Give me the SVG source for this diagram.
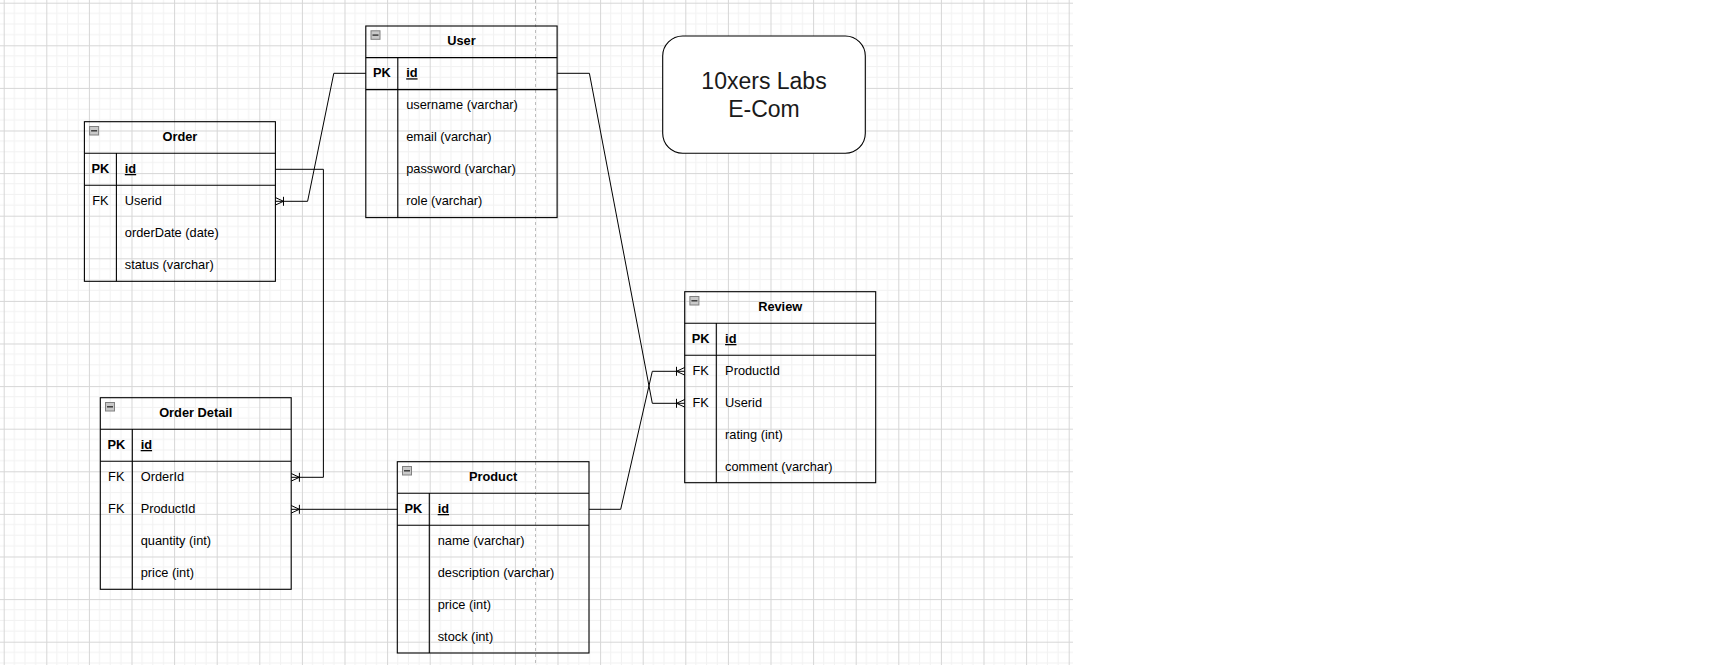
<svg xmlns="http://www.w3.org/2000/svg" width="1710" height="665" viewBox="0 0 1710 665">
  <style>
    .frame { fill: none; stroke: #000; stroke-width: 1.1; }
    .sep { fill: none; stroke: #000; stroke-width: 1.1; }
    .title { font: bold 12.8px "Liberation Sans", Arial, sans-serif; text-anchor: middle; fill: #000; }
    .key { font: 12.8px "Liberation Sans", Arial, sans-serif; text-anchor: middle; fill: #000; }
    .pk { font-weight: bold; }
    .fld { font: 12.8px "Liberation Sans", Arial, sans-serif; fill: #000; }
    .pkf { font-weight: bold; text-decoration: underline; }
    .conn { fill: none; stroke: #000; stroke-width: 1; }
    .label { font: 23px "Liberation Sans", Arial, sans-serif; text-anchor: middle; fill: #1a1a1a; }
  </style>
  <defs>
    <pattern id="grid" patternUnits="userSpaceOnUse" x="3.7" y="2.7" width="42.6" height="42.6">
      <rect x="10.15" y="0" width="1" height="42.6" fill="#f1f1f1"/>
      <rect x="20.8" y="0" width="1" height="42.6" fill="#f1f1f1"/>
      <rect x="31.45" y="0" width="1" height="42.6" fill="#f1f1f1"/>
      <rect x="0" y="10.15" width="42.6" height="1" fill="#f1f1f1"/>
      <rect x="0" y="20.8" width="42.6" height="1" fill="#f1f1f1"/>
      <rect x="0" y="31.45" width="42.6" height="1" fill="#f1f1f1"/>
      <rect x="0" y="0" width="1" height="42.6" fill="#d6d6d6"/>
      <rect x="0" y="0" width="42.6" height="1" fill="#d6d6d6"/>
    </pattern>
    <marker id="many" markerUnits="userSpaceOnUse" markerWidth="20" markerHeight="20" refX="10" refY="10" orient="auto" overflow="visible">
      <path d="M10,6.2 L1.8,10 L10,13.8 M1.8,5.5 V14.5" fill="none" stroke="#000" stroke-width="1"/>
    </marker>
    <g id="collapse">
      <rect x="0.5" y="0.5" width="9" height="8.5" fill="#c9c9c9" stroke="#808080" stroke-width="1"/>
      <path d="M2,4.8 H8" stroke="#333" stroke-width="1.4"/>
    </g>
  </defs>

  <rect x="0" y="0" width="1710" height="665" fill="#ffffff"/>
  <rect x="0" y="0" width="1073" height="665" fill="url(#grid)"/>
  <line x1="535.5" y1="0" x2="535.5" y2="665" stroke="#bdbdbd" stroke-width="1" stroke-dasharray="3 3"/>

  <g id="connectors">
    <path class="conn" d="M365.8,73.3 H333.8 L307.6,201.3 H275.3" marker-end="url(#many)"/>
    <path class="conn" d="M275.3,169.3 H323.4 V477.3 H291.2" marker-end="url(#many)"/>
    <path class="conn" d="M397.3,509.3 H291.2" marker-end="url(#many)"/>
    <path class="conn" d="M589,509.3 H620.7 L652.3,371.3 H684.7" marker-end="url(#many)"/>
    <path class="conn" d="M557.1,73.3 H589.4 L652.3,403.3 H684.7" marker-end="url(#many)"/>
  </g>

  <g id="order" transform="translate(84.4,121.7)">
    <rect class="frame" x="0" y="0" width="191" height="159.6"/>
    <path class="sep" d="M0,31.6 H191 M0,63.6 H191 M32,31.6 V159.6"/>
    <use href="#collapse" x="4.7" y="4.3"/>
    <text class="title" x="95.5" y="19.2">Order</text>
    <text class="key pk" x="16" y="51.3">PK</text>
    <text class="fld pkf" x="40.4" y="51.3">id</text>
    <text class="key" x="16" y="83.2">FK</text>
    <text class="fld" x="40.4" y="83.2">Userid</text>
    <text class="fld" x="40.4" y="115.2">orderDate (date)</text>
    <text class="fld" x="40.4" y="147.2">status (varchar)</text>
  </g>

  <g id="user" transform="translate(365.8,26)">
    <rect class="frame" x="0" y="0" width="191.3" height="191.6"/>
    <path class="sep" d="M0,31.6 H191.3 M0,63.6 H191.3 M32,31.6 V191.6"/>
    <use href="#collapse" x="4.7" y="4.3"/>
    <text class="title" x="95.6" y="19.2">User</text>
    <text class="key pk" x="16" y="51.3">PK</text>
    <text class="fld pkf" x="40.4" y="51.3">id</text>
    <text class="fld" x="40.4" y="83.2">username (varchar)</text>
    <text class="fld" x="40.4" y="115.2">email (varchar)</text>
    <text class="fld" x="40.4" y="147.2">password (varchar)</text>
    <text class="fld" x="40.4" y="179.2">role (varchar)</text>
  </g>

  <g id="order-detail" transform="translate(100.3,397.7)">
    <rect class="frame" x="0" y="0" width="190.9" height="191.6"/>
    <path class="sep" d="M0,31.6 H190.9 M0,63.6 H190.9 M32,31.6 V191.6"/>
    <use href="#collapse" x="4.7" y="4.3"/>
    <text class="title" x="95.5" y="19.2">Order Detail</text>
    <text class="key pk" x="16" y="51.3">PK</text>
    <text class="fld pkf" x="40.4" y="51.3">id</text>
    <text class="key" x="16" y="83.2">FK</text>
    <text class="fld" x="40.4" y="83.2">OrderId</text>
    <text class="key" x="16" y="115.2">FK</text>
    <text class="fld" x="40.4" y="115.2">ProductId</text>
    <text class="fld" x="40.4" y="147.2">quantity (int)</text>
    <text class="fld" x="40.4" y="179.2">price (int)</text>
  </g>

  <g id="product" transform="translate(397.3,461.7)">
    <rect class="frame" x="0" y="0" width="191.7" height="191.3"/>
    <path class="sep" d="M0,31.6 H191.7 M0,63.6 H191.7 M32,31.6 V191.3"/>
    <use href="#collapse" x="4.7" y="4.3"/>
    <text class="title" x="95.8" y="19.2">Product</text>
    <text class="key pk" x="16" y="51.3">PK</text>
    <text class="fld pkf" x="40.4" y="51.3">id</text>
    <text class="fld" x="40.4" y="83.2">name (varchar)</text>
    <text class="fld" x="40.4" y="115.2">description (varchar)</text>
    <text class="fld" x="40.4" y="147.2">price (int)</text>
    <text class="fld" x="40.4" y="179.2">stock (int)</text>
  </g>

  <g id="review" transform="translate(684.7,291.7)">
    <rect class="frame" x="0" y="0" width="191" height="191"/>
    <path class="sep" d="M0,31.6 H191 M0,63.6 H191 M31.6,31.6 V191"/>
    <use href="#collapse" x="4.7" y="4.3"/>
    <text class="title" x="95.5" y="19.2">Review</text>
    <text class="key pk" x="16" y="51.3">PK</text>
    <text class="fld pkf" x="40.4" y="51.3">id</text>
    <text class="key" x="16" y="83.2">FK</text>
    <text class="fld" x="40.4" y="83.2">ProductId</text>
    <text class="key" x="16" y="115.2">FK</text>
    <text class="fld" x="40.4" y="115.2">Userid</text>
    <text class="fld" x="40.4" y="147.2">rating (int)</text>
    <text class="fld" x="40.4" y="179.2">comment (varchar)</text>
  </g>

  <g id="title-box">
    <rect x="662.7" y="36" width="202.6" height="117.3" rx="20" ry="20" fill="#ffffff" stroke="#000" stroke-width="1.1"/>
    <text class="label" x="764" y="89.3">10xers Labs</text>
    <text class="label" x="764" y="116.7">E-Com</text>
  </g>
</svg>
